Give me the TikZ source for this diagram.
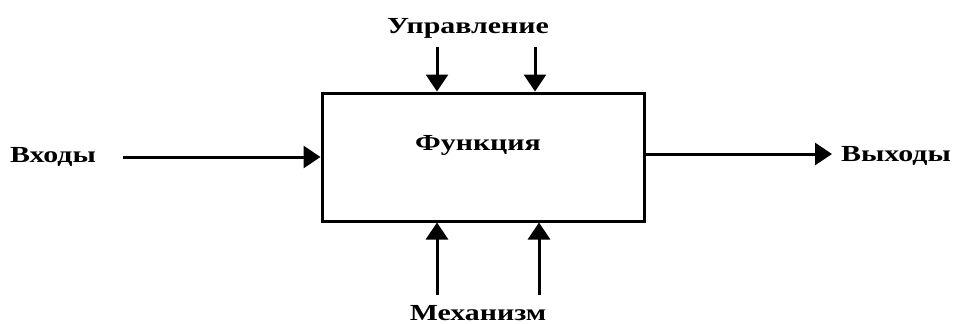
\documentclass[tikz,border=0pt]{standalone}
\usepackage{fontspec}
\setmainfont{Liberation Serif}
\usetikzlibrary{arrows.meta}

\begin{document}
\begin{tikzpicture}[x=1pt,y=-1pt,
    arr/.style={line width=3pt,-{Triangle[length=17pt,width=22pt]}},
    lbl/.style={font=\fontsize{23}{27}\selectfont\bfseries,inner sep=0pt,xscale=1.3}]
            \useasboundingbox (0,0) rectangle (954,324);
            \node[draw,line width=3pt,minimum width=322pt,minimum height=128pt,inner sep=0pt] (func) at (483,157) {};
            \node[lbl] (name) at (478,145) {Функция};
            \node[lbl] (upr) at (468,28) {Управление};
            \node[lbl] (mech) at (478,313) {Механизм};
            \node[lbl] (vh) at (53,157) {Входы};
            \node[lbl] (vyh) at (896,156) {Выходы};
            \coordinate (u1) at (437,47);
            \coordinate (u2) at (535,47);
            \coordinate (m1) at (437,295);
            \coordinate (m2) at (539,295);
            \coordinate (in) at (123,157);
            \coordinate (out) at (832,154);
            \draw[arr] (u1)--(u1 |- func.north);
            \draw[arr] (u2)--(u2 |- func.north);
            \draw[arr] (m1)--(m1 |- func.south);
            \draw[arr] (m2)--(m2 |- func.south);
            \draw[arr] (in)--(in -| func.west);
            \draw[arr] (out -| func.east)--(out);
        \end{tikzpicture}
\end{document}
